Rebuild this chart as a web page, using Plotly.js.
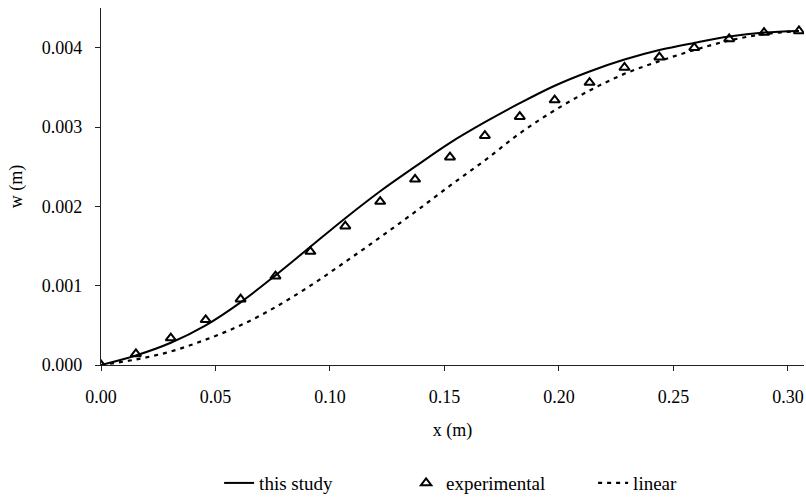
<!DOCTYPE html>
<html>
<head>
<meta charset="utf-8">
<script src="https://cdn.plot.ly/plotly-3.0.1.min.js"></script>
<style>html,body{margin:0;padding:0;background:#fff;}#chart{width:806px;height:498px;}</style>
</head>
<body>
<div id="chart"></div>
<script>
const xPos = [0, 0.01524, 0.03048, 0.04572, 0.06096, 0.0762, 0.09144, 0.10668, 0.12192, 0.13716, 0.1524,
  0.16764, 0.18288, 0.19812, 0.21336, 0.2286, 0.24384, 0.25908, 0.27432, 0.28956, 0.3048];
const thisStudy = [0, 0.00012, 0.00028, 0.00050, 0.00079, 0.00113, 0.00149, 0.00185, 0.00219, 0.00250, 0.00280,
  0.00306, 0.00330, 0.00352, 0.00370, 0.00385, 0.00397, 0.00406, 0.00414, 0.00419, 0.00421];
const experimental = [0, 0.00014, 0.00034, 0.00057, 0.00083, 0.00112, 0.00143, 0.00175, 0.00206, 0.00234, 0.00262,
  0.00289, 0.00313, 0.00334, 0.00356, 0.00375, 0.00388, 0.00400, 0.00411, 0.00419, 0.00421];
const linear = [0, 0.00007, 0.00017, 0.00032, 0.00050, 0.00073, 0.00100, 0.00130, 0.00161, 0.00193, 0.00226,
  0.00258, 0.00292, 0.00321, 0.00346, 0.00367, 0.00383, 0.00397, 0.00409, 0.00417, 0.00421];
const seriesNames = ["this study", "experimental", "linear"];

const font = {family: "Liberation Serif, Times New Roman, serif", size: 18, color: "#000"};
const legendFont = {family: "Liberation Serif, Times New Roman, serif", size: 19, color: "#000"};

const traces = [
  {x: xPos, y: thisStudy, name: seriesNames[0], mode: "lines", type: "scatter",
   line: {color: "#000", width: 2, shape: "spline"}},
  {x: xPos, y: experimental, name: seriesNames[1], mode: "markers", type: "scatter",
   marker: {symbol: "triangle-up-open", size: 9, color: "#000", line: {color: "#000", width: 2}}},
  {x: xPos, y: linear, name: seriesNames[2], mode: "lines", type: "scatter",
   line: {color: "#000", width: 2.2, dash: "4px,5px", shape: "spline"}}
];

const layout = {
  width: 806, height: 498,
  margin: {l: 101, r: 2, t: 8, b: 133, autoexpand: false},
  paper_bgcolor: "#fff", plot_bgcolor: "#fff",
  font: font,
  showlegend: true,
  legend: {orientation: "h", x: 0.567, xanchor: "center", yref: "container", y: 0.03, yanchor: "middle",
    font: legendFont, traceorder: "normal", entrywidth: 142, entrywidthmode: "pixels"},
  xaxis: {
    range: [0, 0.307], dtick: 0.05, tick0: 0, tickformat: ".2f",
    showgrid: false, zeroline: false, showline: true, linecolor: "#222", linewidth: 1.2,
    ticks: "outside", ticklen: 5, tickcolor: "#222", tickfont: font, ticklabelstandoff: 10,
    title: {text: "x (m)", font: font, standoff: 17}
  },
  yaxis: {
    range: [0, 0.0045], dtick: 0.001, tick0: 0, tickformat: ".3f",
    showgrid: false, zeroline: false, showline: true, linecolor: "#222", linewidth: 1.2,
    ticks: "outside", ticklen: 5, tickcolor: "#222", tickfont: font, ticklabelstandoff: 9,
    title: {text: "w (m)", font: font, standoff: 14}
  }
};

Plotly.newPlot("chart", traces, layout, {displayModeBar: false, staticPlot: true});
</script>
</body>
</html>
